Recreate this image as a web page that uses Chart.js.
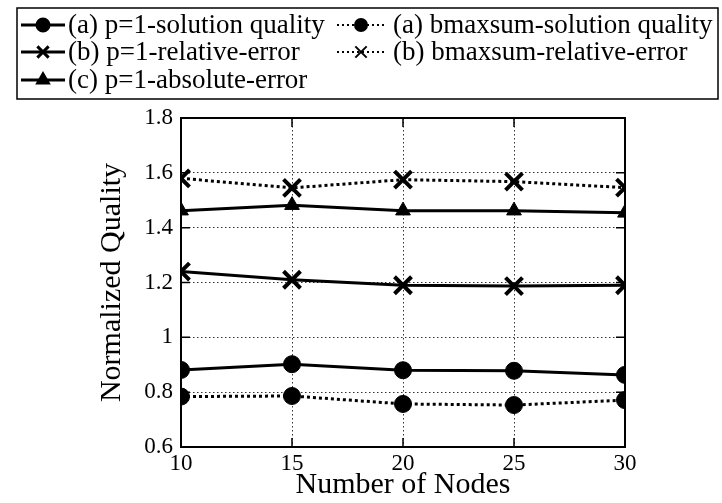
<!DOCTYPE html>
<html>
<head>
<meta charset="utf-8">
<script src="https://cdn.jsdelivr.net/npm/chart.js@4"></script>
<style>
  html, body { margin: 0; padding: 0; background: #fff; }
  #wrap { width: 722px; height: 503px; position: relative; }
</style>
</head>
<body>
<div id="wrap"><canvas id="chart" width="722" height="503"></canvas></div>
<script>
// Data
const nodes = [10, 15, 20, 25, 30];
const p1Quality = [0.881, 0.902, 0.880, 0.878, 0.863];
const bmaxQuality = [0.784, 0.786, 0.757, 0.753, 0.771];
const p1RelErr = [1.24, 1.21, 1.19, 1.187, 1.19];
const bmaxRelErr = [1.58, 1.545, 1.575, 1.568, 1.546];
const p1AbsErr = [1.462, 1.482, 1.462, 1.462, 1.454];
const yTicks = [0.6, 0.8, 1, 1.2, 1.4, 1.6, 1.8];

const FONT = "'Liberation Serif', 'Times New Roman', serif";

const seriesDefs = [
    { label: '(a) p=1-solution quality', data: p1Quality, point: 'circle', dashed: false },
    { label: '(a) bmaxsum-solution quality', data: bmaxQuality, point: 'circle', dashed: true },
    { label: '(b) p=1-relative-error', data: p1RelErr, point: 'cross', dashed: false },
    { label: '(b) bmaxsum-relative-error', data: bmaxRelErr, point: 'cross', dashed: true },
    { label: '(c) p=1-absolute-error', data: p1AbsErr, point: 'triangle', dashed: false }
];

function pointRadius(style) {
    if (style === 'cross') return 12;
    return 8.5;
}

const datasets = seriesDefs.map(s => ({
    label: s.label,
    data: s.data.map((v, i) => ({ x: nodes[i], y: v })),
    borderColor: '#000',
    backgroundColor: '#000',
    borderWidth: 3,
    borderDash: s.dashed ? [3, 3] : [],
    pointStyle: s.point === 'cross' ? 'crossRot' : s.point,
    pointRadius: pointRadius(s.point),
    pointBorderWidth: s.point === 'cross' ? 4 : 1,
    pointBorderColor: '#000',
    pointBackgroundColor: '#000',
    tension: 0
}));

// Frame, inner tick marks and the legend box
const framePlugin = {
    id: 'frame',
    afterDraw(chart) {
        const ctx = chart.ctx;
        const a = chart.chartArea;
        const xs = chart.scales.x, ys = chart.scales.y;
        ctx.save();
        ctx.strokeStyle = '#000';
        ctx.lineWidth = 2;
        ctx.setLineDash([]);
        ctx.strokeRect(a.left, a.top, a.right - a.left, a.bottom - a.top);
        ctx.lineWidth = 1.5;
        yTicks.forEach(v => {
            const y = ys.getPixelForValue(v);
            ctx.beginPath();
            ctx.moveTo(a.left, y); ctx.lineTo(a.left + 9, y);
            ctx.moveTo(a.right, y); ctx.lineTo(a.right - 9, y);
            ctx.stroke();
        });
        nodes.forEach(v => {
            const x = xs.getPixelForValue(v);
            ctx.beginPath();
            ctx.moveTo(x, a.bottom); ctx.lineTo(x, a.bottom - 9);
            ctx.moveTo(x, a.top); ctx.lineTo(x, a.top + 9);
            ctx.stroke();
        });
        ctx.restore();

        // legend
        ctx.save();
        ctx.strokeStyle = '#000';
        ctx.lineWidth = 1.5;
        ctx.strokeRect(17, 8, 701, 91);
        const slots = [
            { x: 21, y: 25, w: 44, gap: 3 }, { x: 337, y: 25, w: 48, gap: 8 },
            { x: 21, y: 52, w: 44, gap: 3 }, { x: 337, y: 52, w: 48, gap: 8 },
            { x: 21, y: 80, w: 44, gap: 3 }
        ];
        // size the legend text so the longest label fits inside the box as in the figure
        let size = 24;
        ctx.font = size + 'px ' + FONT;
        size = size * 319 / ctx.measureText(seriesDefs[1].label).width;
        ctx.font = size.toFixed(1) + 'px ' + FONT;
        ctx.fillStyle = '#000';
        ctx.textBaseline = 'middle';
        chart.data.datasets.forEach((ds, i) => {
            const s = slots[i];
            const dashed = ds.borderDash.length > 0;
            ctx.setLineDash(dashed ? [2, 3] : []);
            ctx.lineWidth = dashed ? 2 : 3;
            ctx.beginPath();
            ctx.moveTo(s.x, s.y); ctx.lineTo(s.x + s.w, s.y);
            ctx.stroke();
            ctx.setLineDash([]);
            Chart.helpers.drawPoint(ctx, {
                pointStyle: ds.pointStyle,
                radius: ds.pointStyle === 'crossRot' ? 8 : 6,
                borderWidth: ds.pointStyle === 'crossRot' ? 3.5 : 1,
                rotation: 0
            }, s.x + s.w / 2, s.y);
            ctx.fillText(ds.label, s.x + s.w + s.gap, s.y + 1);
        });
        ctx.restore();
    }
};

function draw() {
    new Chart(document.getElementById('chart'), {
        type: 'line',
        data: { datasets },
        options: {
            responsive: false,
            animation: false,
            layout: { padding: { top: 118, right: 97, left: 94, bottom: 0 } },
            plugins: { legend: { display: false }, tooltip: { enabled: false } },
            scales: {
                x: {
                    type: 'linear',
                    min: 10, max: 30,
                    afterBuildTicks: s => { s.ticks = nodes.map(v => ({ value: v })); },
                    afterFit: s => { s.height = 56; },
                    grid: { color: '#333', lineWidth: 1, drawTicks: false },
                    border: { display: false, dash: [1.5, 2.5] },
                    ticks: { color: '#000', font: { family: FONT, size: 23 }, padding: 3, maxRotation: 0 },
                    title: {
                        display: true, text: 'Number of Nodes', color: '#000',
                        font: { family: FONT, size: 30 }, padding: { top: 1, bottom: 0 }
                    }
                },
                y: {
                    min: 0.6, max: 1.8,
                    afterBuildTicks: s => { s.ticks = yTicks.map(v => ({ value: v })); },
                    afterFit: s => { s.width = 87; },
                    grid: { color: '#333', lineWidth: 1, drawTicks: false },
                    border: { display: false, dash: [1.5, 2.5] },
                    ticks: {
                        color: '#000', font: { family: FONT, size: 23 }, padding: 8,
                        callback: v => String(Math.round(v * 10) / 10)
                    },
                    title: {
                        display: true, text: 'Normalized Quality', color: '#000',
                        font: { family: FONT, size: 30 }, padding: { top: 0, bottom: 0 }
                    }
                }
            }
        },
        plugins: [framePlugin]
    });
}

if (document.fonts && document.fonts.load) {
    Promise.all([
        document.fonts.load("24px 'Liberation Serif'"),
        document.fonts.load("30px 'Liberation Serif'")
    ]).then(draw, draw);
} else {
    draw();
}
</script>
</body>
</html>
